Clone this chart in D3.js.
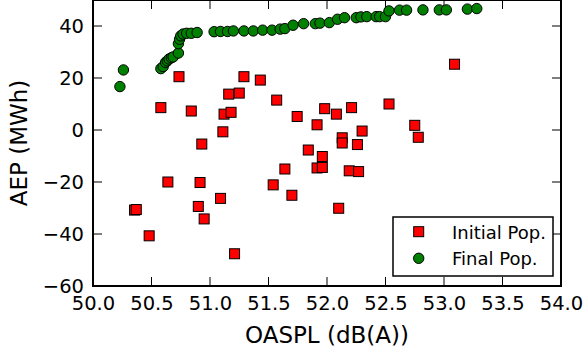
<!DOCTYPE html>
<html>
<head>
<meta charset="utf-8">
<script src="https://cdn.jsdelivr.net/npm/d3@7"></script>
<style>
  html, body { margin: 0; padding: 0; background: #fff; }
  svg { display: block; font-family: "DejaVu Sans", sans-serif; }
</style>
</head>
<body>
<svg id="chart" width="587" height="356"></svg>
<script>
// Initial population (red squares)
const initialOaspl = [50.735, 51.29, 51.43, 51.16, 51.25, 50.58, 50.84, 51.12, 51.18, 51.11,
  50.93, 50.64, 50.915, 51.09, 50.355, 50.37, 50.90, 50.95, 50.48, 51.21,
  53.09, 51.57, 51.98, 52.08, 52.21, 52.53, 51.745, 51.915, 52.30, 52.13,
  52.13, 52.26, 52.75, 52.78, 51.84, 51.96, 51.915, 51.96, 51.64, 52.19,
  52.27, 51.54, 51.70, 52.10];
const initialAep = [20.5, 20.5, 19.2, 13.8, 14.2, 8.6, 7.3, 6.1, 6.8, -0.7,
  -5.4, -20.0, -20.2, -26.3, -30.8, -30.6, -29.4, -34.2, -40.7, -47.6,
  25.3, 11.5, 8.2, 6.1, 8.6, 10.0, 5.2, 2.0, -0.4, -3.0,
  -5.0, -5.6, 1.8, -2.8, -7.7, -10.2, -14.6, -14.4, -15.0, -15.7,
  -16.0, -21.1, -25.1, -30.1];

// Final population (green circles)
const finalOaspl = [50.23, 50.26, 50.58, 50.60, 50.62, 50.635, 50.65, 50.67, 50.685, 50.73,
  50.73, 50.74, 50.75, 50.77, 50.80, 50.84, 50.89, 51.035, 51.09, 51.15,
  51.20, 51.29, 51.37, 51.45, 51.53, 51.60, 51.64, 51.71, 51.80, 51.90,
  51.94, 52.02, 52.09, 52.15, 52.25, 52.29, 52.34, 52.42, 52.45, 52.50,
  52.53, 52.62, 52.68, 52.82, 52.96, 53.02, 53.20, 53.28];
const finalAep = [16.7, 23.1, 23.6, 24.4, 26.0, 26.6, 27.3, 27.8, 28.1, 29.6,
  33.2, 34.9, 36.2, 36.9, 37.2, 37.2, 37.5, 37.8, 37.9, 37.9,
  38.1, 38.1, 38.1, 38.4, 38.4, 38.8, 39.0, 40.3, 40.9, 40.9,
  41.1, 41.3, 42.6, 43.2, 43.2, 43.5, 43.6, 43.6, 43.6, 43.6,
  45.8, 46.1, 46.1, 46.2, 46.2, 46.2, 46.5, 46.7];

const xTicks = [50.0, 50.5, 51.0, 51.5, 52.0, 52.5, 53.0, 53.5, 54.0];
const yTicks = [-60, -40, -20, 0, 20, 40];
const legendLabels = ["Initial Pop.", "Final Pop."];

const svg = d3.select("#chart");
const plotL = 93, plotR = 561, plotT = 0, plotB = 286;

const x = d3.scaleLinear().domain([50, 54]).range([plotL, plotR]);
const y = d3.scaleLinear().domain([-60, 50]).range([plotB, plotT]);

const tickLen = 9;
const fmtX = d3.format(".1f");
const fmtY = d => (d < 0 ? "\u2212" + Math.abs(d) : String(d));

// Bottom axis: labels outside, ticks drawn inward separately
const xAxisG = svg.append("g")
  .attr("transform", `translate(0,${plotB})`)
  .call(d3.axisBottom(x).tickValues(xTicks).tickFormat(fmtX).tickSize(0).tickPadding(10));
xAxisG.select(".domain").remove();
xAxisG.selectAll("text").attr("font-size", 19.5).attr("fill", "#000")
  .attr("font-family", "DejaVu Sans, sans-serif");

const yAxisG = svg.append("g")
  .attr("transform", `translate(${plotL},0)`)
  .call(d3.axisLeft(y).tickValues(yTicks).tickFormat(fmtY).tickSize(0).tickPadding(9));
yAxisG.select(".domain").remove();
yAxisG.selectAll("text").attr("font-size", 19.5).attr("fill", "#000")
  .attr("font-family", "DejaVu Sans, sans-serif");

// Inward ticks on all four sides
const tickG = svg.append("g").attr("stroke", "#000").attr("stroke-width", 1);
xTicks.forEach(v => {
  tickG.append("line").attr("x1", x(v)).attr("x2", x(v)).attr("y1", plotB).attr("y2", plotB - tickLen);
  tickG.append("line").attr("x1", x(v)).attr("x2", x(v)).attr("y1", plotT).attr("y2", plotT + tickLen);
});
yTicks.forEach(v => {
  tickG.append("line").attr("x1", plotL).attr("x2", plotL + tickLen).attr("y1", y(v)).attr("y2", y(v));
  tickG.append("line").attr("x1", plotR).attr("x2", plotR - tickLen).attr("y1", y(v)).attr("y2", y(v));
});

// Markers
const sq = 10;
svg.append("g").selectAll("rect")
  .data(initialOaspl.map((v, i) => [v, initialAep[i]]))
  .join("rect")
  .attr("x", d => x(d[0]) - sq / 2)
  .attr("y", d => y(d[1]) - sq / 2)
  .attr("width", sq).attr("height", sq)
  .attr("fill", "#ff0000").attr("stroke", "#000").attr("stroke-width", 1);

svg.append("g").selectAll("circle")
  .data(finalOaspl.map((v, i) => [v, finalAep[i]]))
  .join("circle")
  .attr("cx", d => x(d[0]))
  .attr("cy", d => y(d[1]))
  .attr("r", 5.2)
  .attr("fill", "#008000").attr("stroke", "#000").attr("stroke-width", 1);

// Frame
svg.append("rect")
  .attr("x", plotL).attr("y", plotT)
  .attr("width", plotR - plotL).attr("height", plotB - plotT)
  .attr("fill", "none").attr("stroke", "#000").attr("stroke-width", 2);

// Axis titles
svg.append("text")
  .attr("x", (plotL + plotR) / 2).attr("y", 343)
  .attr("text-anchor", "middle").attr("font-size", 23)
  .text("OASPL (dB(A))");
svg.append("text")
  .attr("transform", `translate(27,${(plotT + plotB) / 2}) rotate(-90)`)
  .attr("text-anchor", "middle").attr("font-size", 23)
  .text("AEP (MWh)");

// Legend
const lg = svg.append("g");
lg.append("rect")
  .attr("x", 393).attr("y", 217).attr("width", 160).attr("height", 59)
  .attr("fill", "#fff").attr("stroke", "#000").attr("stroke-width", 1.5);
lg.append("rect")
  .attr("x", 418.7 - sq / 2).attr("y", 231.7 - sq / 2).attr("width", sq).attr("height", sq)
  .attr("fill", "#ff0000").attr("stroke", "#000").attr("stroke-width", 1);
lg.append("circle")
  .attr("cx", 418.7).attr("cy", 258.3).attr("r", 5.2)
  .attr("fill", "#008000").attr("stroke", "#000").attr("stroke-width", 1);
lg.append("text").attr("x", 452).attr("y", 238.5).attr("font-size", 18).text(legendLabels[0]);
lg.append("text").attr("x", 452).attr("y", 265).attr("font-size", 18).text(legendLabels[1]);
</script>
</body>
</html>
